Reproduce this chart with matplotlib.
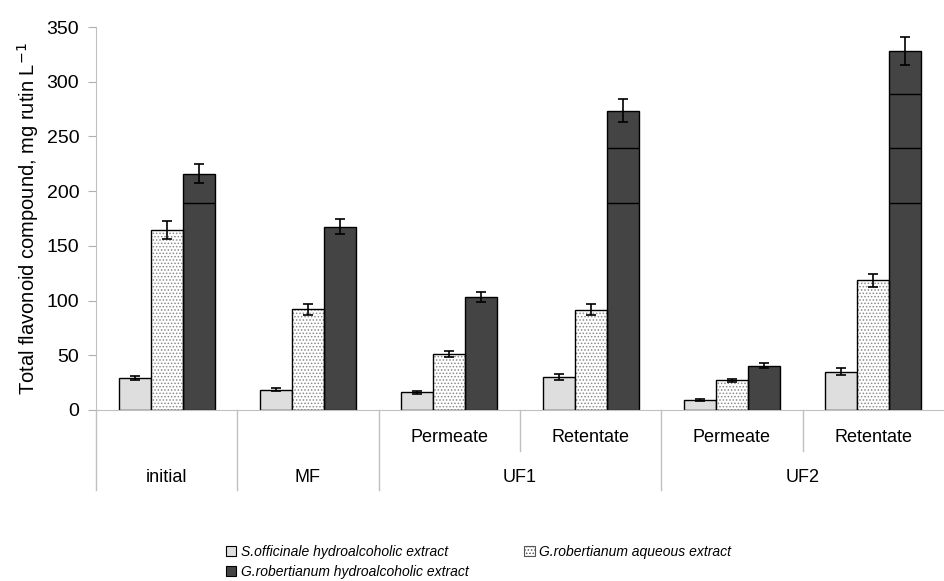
import matplotlib.pyplot as plt
import numpy as np

plt.rcParams['font.family'] = ['Liberation Sans', 'DejaVu Sans']
plt.rcParams['hatch.linewidth'] = 0.7

# data ------------------------------------------------------------
stages = ['initial', 'MF', 'UF1', 'UF1', 'UF2', 'UF2']
subcats = ['', '', 'Permeate', 'Retentate', 'Permeate', 'Retentate']
top_labels = ['initial', 'MF', 'UF1', 'UF2']

series = ['S.officinale hydroalcoholic extract',
          'G.robertianum aqueous extract',
          'G.robertianum hydroalcoholic extract']

s_off = [29, 18.5, 16, 30, 9.5, 35]
s_off_err = [2, 1.5, 1.5, 2.5, 1, 3]
g_aq = [164.5, 92, 51, 91.5, 27, 118.5]
g_aq_err = [8, 5, 3, 5, 1.5, 6]
g_hyd = [216, 167.5, 103.5, 273.5, 40.5, 328]
g_hyd_err = [9, 7, 4.5, 10.5, 2, 13]

band_levels = [189, 239, 289]   # the odd lines inside the dark bars

fig = plt.figure(figsize=(9.44, 5.81), dpi=100)
ax = fig.add_axes([96/944, 1-410/581, 1-96/944, (410-27)/581])

x = np.arange(len(subcats))
w = 0.227
ekw = dict(ecolor='black', elinewidth=1.2, capsize=3.5, capthick=1.2)

# light bars
ax.bar(x - w, s_off, w, color='#dedede', edgecolor='black', lw=1,
       yerr=s_off_err, error_kw=ekw, zorder=2)
# dotted bars: hatch in grey, then black outline on top
ax.bar(x, g_aq, w, color='white', edgecolor='#8a8a8a', hatch='.....', lw=0, zorder=2)
ax.bar(x, g_aq, w, fill=False, edgecolor='black', lw=1,
       yerr=g_aq_err, error_kw=ekw, zorder=3)
# dark bars
ax.bar(x + w, g_hyd, w, color='#444444', edgecolor='black', lw=1,
       yerr=g_hyd_err, error_kw=ekw, zorder=2)
for xi, v in zip(x, g_hyd):
    for lev in band_levels:
        if lev < v:
            ax.hlines(lev, xi + w/2, xi + 1.5*w, color='black', lw=1, zorder=3)

ax.set_xlim(-0.5, 5.5)
ax.set_ylim(0, 350)
ax.set_yticks(np.arange(0, 351, 50))
ax.tick_params(axis='y', labelsize=14, length=6, color='#b0b0b0', pad=6)
ax.set_xticks([])
for s in ['top', 'right']:
    ax.spines[s].set_visible(False)
for s in ['left', 'bottom']:
    ax.spines[s].set_color('#c0c0c0')
ax.set_ylabel('Total flavonoid compound, mg rutin L$^{-1}$', fontsize=14.5, labelpad=4)

# multi-level category axis
tr = ax.get_xaxis_transform()
full_y = -80/383
short_y = -41/383
for sep in [-0.5, 0.5, 1.5, 3.5]:
    ax.plot([sep, sep], [0, full_y], color='#c0c0c0', lw=1, transform=tr, clip_on=False)
for sep in [2.5, 4.5]:
    ax.plot([sep, sep], [0, short_y], color='#c0c0c0', lw=1, transform=tr, clip_on=False)
for xi, lab in zip(x, subcats):
    if lab:
        ax.text(xi, -28/383, lab, transform=tr, ha='center', va='center', fontsize=13)
centers = {}
for xi, st in zip(x, stages):
    centers.setdefault(st, []).append(xi)
for st in top_labels:
    ax.text(np.mean(centers[st]), -67/383, st, transform=tr, ha='center', va='center', fontsize=13)

# legend, laid out row-wise
from matplotlib.patches import Patch
h1 = Patch(facecolor='#dedede', edgecolor='black', lw=0.8)
h2 = Patch(facecolor='white', edgecolor='#555555', hatch='.....', lw=0.8)
h3 = Patch(facecolor='#444444', edgecolor='black', lw=0.8)
fig.legend([h1, h3, h2], [series[0], series[2], series[1]], ncol=2,
           loc='upper left', bbox_to_anchor=(220/944, 1-539/581), frameon=False,
           prop={'size': 10, 'style': 'italic'}, handlelength=0.75, handleheight=0.75,
           handletextpad=0.35, columnspacing=4.0, labelspacing=0.45, borderaxespad=0)

fig.savefig('out.png', dpi=100)
